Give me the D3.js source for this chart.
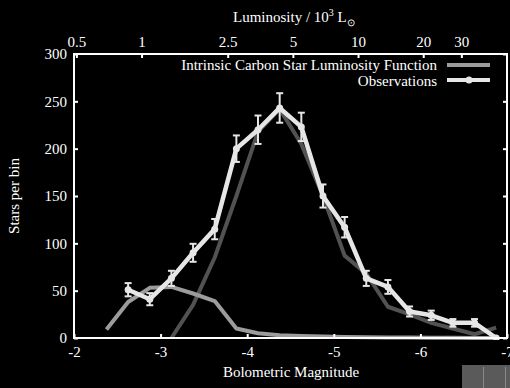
<!DOCTYPE html>
<html><head><meta charset="utf-8">
<script src="https://cdn.jsdelivr.net/npm/d3@7"></script>
<style>html,body{margin:0;padding:0;background:#000;}svg{display:block;}</style>
</head><body>
<script>
const magBins = [-2.375,-2.625,-2.875,-3.125,-3.375,-3.625,-3.875,-4.125,-4.375,-4.625,-4.875,-5.125,-5.375,-5.625,-5.875,-6.125,-6.375,-6.625,-6.875];
const intrinsic = [9,38,53,54,47,39,10,5,3,2,1.5,1,0.8,0.6,0.4,0.3,0.2,0.1,0];
const darkMag = [-3.125,-3.375,-3.625,-3.875,-4.125,-4.375,-4.625,-4.875,-5.125,-5.375,-5.625,-5.875,-6.125,-6.375,-6.625,-6.875];
const darkCurve = [0,35,85,150,218,242,205,150,87,68,33,25,16,10,4,11];
const obsMag = [-2.625,-2.875,-3.125,-3.375,-3.625,-3.875,-4.125,-4.375,-4.625,-4.875,-5.125,-5.375,-5.625,-5.875,-6.125,-6.375,-6.625,-6.875];
const obsVal = [51,41,63,90,115,200,220,243,223,150,117,63,54,28,24,16,16,0];
const obsErr = [7,6.4,8,9.5,10.7,14,15,15.6,15,12.2,10.8,8,7.3,5.3,4.9,4,4,0];
const xTicks = [-2,-3,-4,-5,-6,-7];
const yTicks = [0,50,100,150,200,250,300];
const lumTicks = [0.5,1,2.5,5,10,20,30];
const solarMbol = 4.72;

const W = 510, H = 388;
const svg = d3.select("body").append("svg").attr("width", W).attr("height", H);
svg.append("rect").attr("width", W).attr("height", H).attr("fill", "#000");

const L = 74, R = 507, T = 54, B = 338;
const x = d3.scaleLinear().domain([-2, -7]).range([L, R]);
const y = d3.scaleLinear().domain([0, 300]).range([B, T]);
const magToLum = m => Math.pow(10, (solarMbol - m) / 2.5) / 1000;
const xl = d3.scaleLog().domain([magToLum(-2), magToLum(-7)]).range([L, R]);

const font = "'Liberation Serif', 'Times New Roman', serif";
const clip = svg.append("clipPath").attr("id", "c").append("rect")
  .attr("x", L).attr("y", T - 10).attr("width", R - L).attr("height", B - T + 12);

const g = svg.append("g").attr("clip-path", "url(#c)");
const line = d3.line().x(d => x(d[0])).y(d => y(d[1]));

g.append("path").datum(darkMag.map((m, i) => [m, darkCurve[i]]))
  .attr("d", line).attr("fill", "none").attr("stroke", "#525252").attr("stroke-width", 4).attr("stroke-linejoin", "round");
g.append("path").datum(magBins.map((m, i) => [m, intrinsic[i]]))
  .attr("d", line).attr("fill", "none").attr("stroke", "#9c9c9c").attr("stroke-width", 4).attr("stroke-linejoin", "round");

const obsCol = "#e6e6e6";
g.append("path").datum(obsMag.map((m, i) => [m, obsVal[i]]))
  .attr("d", line).attr("fill", "none").attr("stroke", obsCol).attr("stroke-width", 4.5).attr("stroke-linejoin", "round");
const eb = g.append("g").attr("stroke", obsCol).attr("stroke-width", 2);
obsMag.forEach((m, i) => {
  if (obsErr[i] <= 0) return;
  const cx = x(m), y1 = y(obsVal[i] + obsErr[i]), y2 = y(obsVal[i] - obsErr[i]);
  eb.append("line").attr("x1", cx).attr("x2", cx).attr("y1", y1).attr("y2", y2);
  eb.append("line").attr("x1", cx - 3.5).attr("x2", cx + 3.5).attr("y1", y1).attr("y2", y1);
  eb.append("line").attr("x1", cx - 3.5).attr("x2", cx + 3.5).attr("y1", y2).attr("y2", y2);
});
g.selectAll("circle.obs").data(obsMag).join("circle").attr("class", "obs")
  .attr("cx", d => x(d)).attr("cy", (d, i) => y(obsVal[i])).attr("r", 3.5).attr("fill", obsCol);

// frame
svg.append("rect").attr("x", L).attr("y", T).attr("width", R - L).attr("height", B - T)
  .attr("fill", "none").attr("stroke", "#fff").attr("stroke-width", 2);

// bottom axis (ticks inward)
const xb = svg.append("g").attr("transform", `translate(0,${B})`)
  .call(d3.axisBottom(x).tickValues(xTicks).tickSize(-4).tickPadding(8).tickFormat(d => String(d)));
// top axis luminosity
const xt = svg.append("g").attr("transform", `translate(0,${T})`)
  .call(d3.axisTop(xl).tickValues(lumTicks).tickSize(-4).tickPadding(7).tickFormat(d => String(d)));
// left
const yl = svg.append("g").attr("transform", `translate(${L},0)`)
  .call(d3.axisLeft(y).tickValues(yTicks).tickSize(-4).tickPadding(7));
// right ticks only
const yr = svg.append("g").attr("transform", `translate(${R},0)`)
  .call(d3.axisRight(y).tickValues(yTicks).tickSize(-4).tickFormat(""));
[xb, xt, yl, yr].forEach(a => {
  a.select(".domain").remove();
  a.selectAll("line").attr("stroke", "#fff").attr("stroke-width", 2);
  a.selectAll("text").attr("fill", "#fff").style("font-family", font).style("font-size", "15px");
});

// titles
svg.append("text").attr("x", 291).attr("y", 377).attr("text-anchor", "middle")
  .attr("fill", "#fff").style("font-family", font).style("font-size", "15px").text("Bolometric Magnitude");
svg.append("text").attr("transform", "translate(19,196) rotate(-90)").attr("text-anchor", "middle")
  .attr("fill", "#fff").style("font-family", font).style("font-size", "15px").text("Stars per bin");
const tt = svg.append("text").attr("x", 233).attr("y", 22)
  .attr("fill", "#fff").style("font-family", font).style("font-size", "15px");
tt.append("tspan").text("Luminosity / 10");
tt.append("tspan").attr("dy", -6).style("font-size", "10px").text("3");
tt.append("tspan").attr("dy", 6).text(" L");
tt.append("tspan").attr("dy", 4).style("font-size", "10px").text("\u2299");

// legend
const leg = svg.append("g");
leg.append("text").attr("x", 437).attr("y", 70).attr("text-anchor", "end")
  .attr("fill", "#fff").style("font-family", font).style("font-size", "15px").text("Intrinsic Carbon Star Luminosity Function");
leg.append("line").attr("x1", 447).attr("x2", 490).attr("y1", 65).attr("y2", 65)
  .attr("stroke", "#9c9c9c").attr("stroke-width", 4);
leg.append("text").attr("x", 437).attr("y", 86).attr("text-anchor", "end")
  .attr("fill", "#fff").style("font-family", font).style("font-size", "15px").text("Observations");
leg.append("line").attr("x1", 447).attr("x2", 490).attr("y1", 80).attr("y2", 80)
  .attr("stroke", obsCol).attr("stroke-width", 4);
leg.append("circle").attr("cx", 469).attr("cy", 80).attr("r", 3.5).attr("fill", obsCol);

// corner artifact
svg.append("rect").attr("x", 462).attr("y", 365).attr("width", 48).attr("height", 23).attr("fill", "#5a5a5a");
svg.append("line").attr("x1", 483.5).attr("x2", 483.5).attr("y1", 367).attr("y2", 388).attr("stroke", "#888");
svg.append("line").attr("x1", 505.5).attr("x2", 505.5).attr("y1", 367).attr("y2", 388).attr("stroke", "#888");
</script>
</body></html>
